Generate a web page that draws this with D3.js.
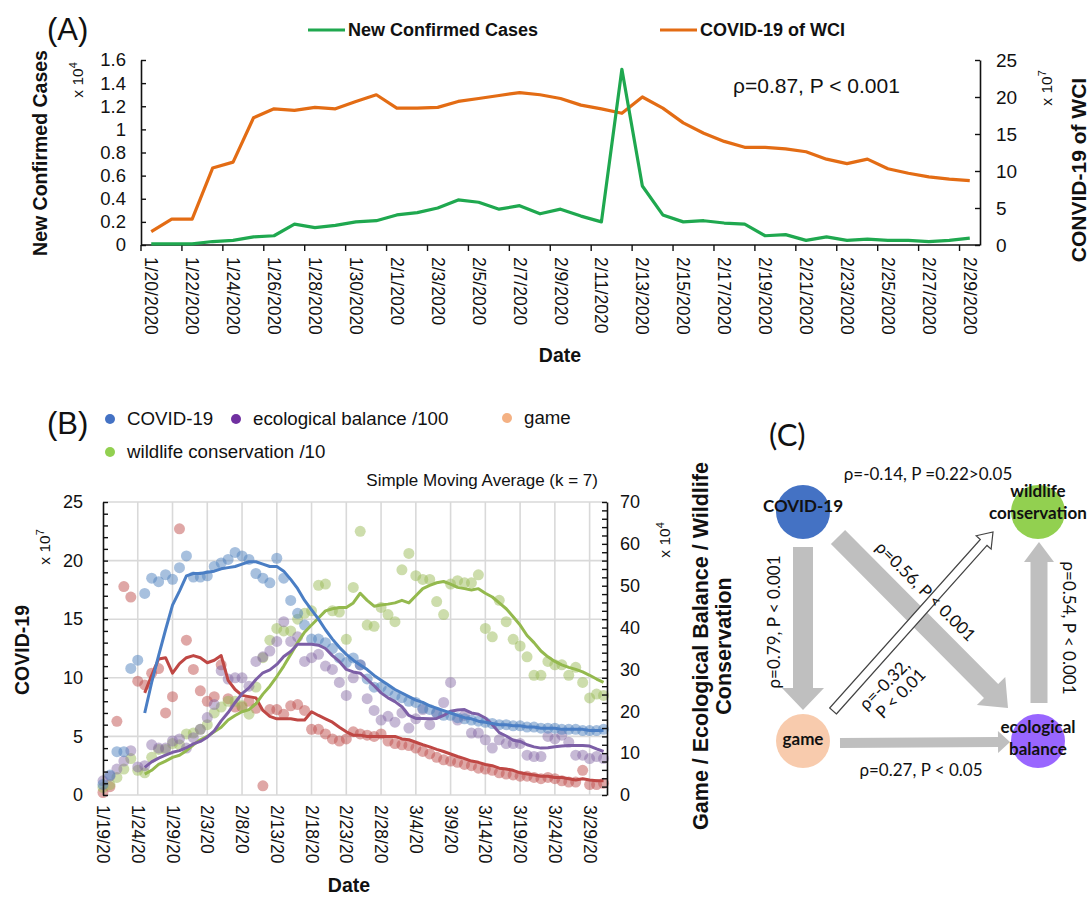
<!DOCTYPE html>
<html>
<head>
<meta charset="utf-8">
<script src="https://cdn.jsdelivr.net/npm/d3@7"></script>
<style>
    body { margin: 0; background: #fff; }
    svg text { font-family: "Liberation Sans", Arial, sans-serif; fill: #111; }
    .net text { font-family: Lato, "Open Sans", sans-serif; }
</style>
</head>
<body>
<svg id="chart" width="1089" height="903"></svg>
<script>

/* * * * * * * * * * * * * *
*        DATA (A)          *
* * * * * * * * * * * * * */

const datesA = ["1/20/2020","1/21/2020","1/22/2020","1/23/2020","1/24/2020","1/25/2020","1/26/2020","1/27/2020",
    "1/28/2020","1/29/2020","1/30/2020","1/31/2020","2/1/2020","2/2/2020","2/3/2020","2/4/2020","2/5/2020",
    "2/6/2020","2/7/2020","2/8/2020","2/9/2020","2/10/2020","2/11/2020","2/12/2020","2/13/2020","2/14/2020",
    "2/15/2020","2/16/2020","2/17/2020","2/18/2020","2/19/2020","2/20/2020","2/21/2020","2/22/2020","2/23/2020",
    "2/24/2020","2/25/2020","2/26/2020","2/27/2020","2/28/2020","2/29/2020"];

// new confirmed cases, x 10^4 (left axis)
const newCases = [0.01,0.01,0.01,0.03,0.04,0.07,0.08,0.18,0.15,0.17,0.20,0.21,0.26,0.28,0.32,0.39,0.37,
    0.31,0.34,0.27,0.31,0.25,0.20,1.52,0.51,0.26,0.20,0.21,0.19,0.18,0.08,0.09,0.04,0.07,0.04,0.05,0.04,
    0.04,0.03,0.04,0.06];

// COVID-19 of WCI, x 10^7 (right axis)
const wciCovid = [1.8,3.5,3.5,10.4,11.2,17.2,18.4,18.2,18.6,18.4,19.4,20.3,18.5,18.5,18.6,19.4,19.8,20.2,
    20.6,20.3,19.8,18.9,18.4,17.8,20.0,18.5,16.5,15.1,14.0,13.2,13.2,13.0,12.6,11.6,11.0,11.6,10.3,9.7,
    9.2,8.9,8.7];

/* * * * * * * * * * * * * *
*        DATA (B)          *
* * * * * * * * * * * * * */

const startB = new Date(2020, 0, 19);   // first daily point, 73 days to 3/31
const smaStart = 6;                     // k = 7, first average on day 7
const ticksB = ["1/19/20","1/24/20","1/29/20","2/3/20","2/8/20","2/13/20","2/18/20","2/23/20","2/28/20",
    "3/4/20","3/9/20","3/14/20","3/19/20","3/24/20","3/29/20"];

// COVID-19, x 10^7 (left axis)
const covidDots = [0.9,1.7,3.7,3.7,10.8,11.5,17.2,18.5,18.2,18.8,18.4,19.4,20.4,18.6,18.6,18.7,19.5,19.8,
    20.1,20.7,20.4,20.1,18.9,18.5,18.1,20.2,18.5,16.6,15.5,14.5,13.3,13.3,13.0,12.5,11.7,11.3,11.7,11.1,
    9.9,9.2,9.2,8.9,8.5,8.3,8.0,7.9,7.4,7.3,7.0,6.8,6.8,6.6,6.5,6.4,6.3,6.2,6.1,6.0,6.0,5.9,5.9,5.8,5.8,
    5.7,5.7,5.7,5.6,5.6,5.6,5.5,5.5,5.5,5.6];
const covidSma = [7.0,9.6,11.9,14.1,16.2,17.4,18.7,18.9,18.9,19.0,19.1,19.3,19.4,19.5,19.7,19.9,19.9,19.7,
    19.5,19.5,19.1,18.4,17.6,16.6,15.8,15.0,14.1,13.3,12.6,12.0,11.5,11.1,10.7,10.2,9.8,9.4,9.0,8.7,8.4,
    8.1,7.9,7.6,7.4,7.2,7.0,6.8,6.6,6.5,6.3,6.2,6.1,6.0,6.0,5.9,5.9,5.8,5.8,5.7,5.7,5.7,5.6,5.6,5.6,5.6,
    5.5,5.5,5.5];

// game, ecological balance /100, wildlife conservation /10 : x 10^4 (right axis)
const gameDots = [0.6,2.0,17.6,49.8,47.3,27.2,26.3,29.1,30.2,19.6,23.5,63.6,37.0,30.0,24.9,22.4,23.5,31.1,
    23.0,21.0,21.0,22.4,20.7,2.2,20.4,20.4,19.3,21.3,21.6,20.2,15.7,15.7,14.6,13.4,12.9,13.4,15.1,14.6,
    14.3,14.0,14.6,12.9,12.3,12.0,11.8,11.2,10.4,9.8,9.0,8.4,8.1,7.8,7.3,7.0,6.4,6.2,5.9,5.3,5.0,4.8,4.5,
    4.5,4.2,3.9,4.2,3.9,3.4,3.1,3.1,5.9,2.5,2.5,2.8];
const gameSma = [24.4,28.6,32.5,32.8,29.1,31.4,32.8,33.3,32.8,31.6,32.2,33.3,27.4,25.2,23.8,23.5,23.2,20.2,
    18.8,18.2,18.2,18.2,17.9,17.9,19.9,19.0,18.2,17.4,16.2,15.1,14.3,14.3,14.0,14.0,14.0,14.0,14.0,13.4,
    13.2,12.6,12.0,11.5,10.9,10.4,9.8,9.2,8.7,8.1,7.8,7.3,7.0,6.4,6.2,5.9,5.3,5.0,4.8,4.5,4.5,4.2,4.2,3.9,
    3.6,3.9,3.6,3.4,3.4];

const ecoDots = [3.4,4.5,6.2,8.1,10.6,6.7,7.0,12.0,11.2,11.2,12.9,13.4,11.2,13.7,15.7,18.5,21.6,29.7,27.7,
    28.0,28.0,26.0,31.9,33.0,34.4,36.7,41.4,36.7,37.8,31.9,32.8,33.6,30.8,30.0,26.9,23.8,28.0,31.1,23.0,
    20.2,17.9,18.8,17.4,19.6,16.0,18.2,20.4,16.8,19.6,22.1,26.9,17.9,19.0,14.8,14.8,13.2,11.2,13.2,12.3,
    12.3,12.3,9.5,9.2,9.2,14.0,13.4,14.3,12.6,9.5,9.5,8.7,9.2,8.7];
const ecoSma = [6.6,7.9,8.8,9.5,10.2,10.6,11.3,12.2,12.8,13.8,15.3,17.7,19.7,22.1,24.2,25.6,27.6,29.2,29.9,
    31.2,33.1,34.3,36.0,36.0,36.0,35.8,35.0,33.3,31.9,30.0,29.4,29.1,27.6,26.1,24.4,23.2,22.3,21.1,19.0,
    18.3,18.3,18.2,18.3,19.0,20.0,20.3,20.4,19.6,19.3,18.4,16.8,14.9,14.1,13.1,12.8,12.0,11.5,11.2,11.3,
    11.5,11.7,11.8,11.8,11.8,11.7,11.0,10.4];

const wildDots = [1.8,2.5,4.2,6.2,8.7,5.9,5.3,9.0,10.9,10.9,12.3,12.0,14.6,14.8,15.7,16.8,19.6,21.0,22.4,
    22.4,21.3,19.3,25.8,32.8,37.0,39.8,39.2,39.2,42.0,43.4,44.0,50.1,50.4,44.0,43.7,37.2,49.6,63.0,40.6,
    40.3,44.8,43.1,41.4,53.8,57.7,52.4,51.5,51.5,46.2,43.1,50.4,51.2,50.7,50.7,52.6,39.8,37.8,46.5,41.4,
    37.2,35.6,33.0,28.6,28.6,31.9,31.1,31.1,28.6,30.5,26.9,23.2,24.1,23.8];
const wildSma = [5.0,5.9,7.3,8.1,9.0,9.5,10.6,12.0,13.2,14.0,15.1,16.2,17.9,19.0,19.9,20.4,21.8,24.1,26.0,
    28.3,30.8,33.6,36.4,38.9,40.6,42.3,44.0,44.5,44.8,44.8,45.9,48.2,46.5,45.1,45.4,45.6,45.9,46.5,45.9,
    47.6,49.3,50.1,50.7,51.0,50.4,49.6,49.3,49.0,49.3,48.2,47.3,45.9,44.5,42.6,40.6,38.1,36.4,34.4,33.0,
    31.9,31.1,30.5,30.0,29.4,28.6,27.7,26.9];

/* * * * * * * * * * * * * *
*        DATA (C)          *
* * * * * * * * * * * * * */

const netNodes = [
    {id: "covid", label: ["COVID-19"], col: 0, row: 0, color: "#4472c4"},
    {id: "wild", label: ["wildlife", "conservation"], col: 1, row: 0, color: "#92d050"},
    {id: "game", label: ["game"], col: 0, row: 1, color: "#f8cbad"},
    {id: "eco", label: ["ecological", "balance"], col: 1, row: 1, color: "#9966ff"}
];
const netLinks = [
    {source: "covid", target: "game", text: ["ρ=0.79, P < 0.001"]},
    {source: "covid", target: "eco", text: ["ρ=0.56, P < 0.001"]},
    {source: "game", target: "eco", text: ["ρ=0.27, P < 0.05"]},
    {source: "eco", target: "wild", text: ["ρ=0.54, P < 0.001"]},
    {source: "game", target: "wild", text: ["ρ=-0.32,", "P < 0.01"], negative: true},
    {source: "covid", target: "wild", text: ["ρ=-0.14, P =0.22>0.05"], none: true}
];


let svg = d3.select("#chart");

function styleAxis(g, size) {
    g.attr("font-family", "Liberation Sans, Arial, sans-serif").attr("font-size", size);
    g.selectAll("path.domain").attr("stroke", "#111").attr("stroke-width", 1.6);
    g.selectAll(".tick line").attr("stroke", "#111").attr("stroke-width", 1.4);
    g.selectAll(".tick text").attr("fill", "#222");
}

function sideTitle(parent, x, y, str, size, bold) {
    return parent.append("text")
        .attr("transform", `translate(${x},${y}) rotate(-90)`)
        .attr("text-anchor", "middle")
        .attr("font-size", size)
        .attr("font-weight", bold ? "bold" : "normal")
        .text(str);
}

function powerLabel(parent, x, y, base, exp, size) {
    let t = parent.append("text")
        .attr("transform", `translate(${x},${y}) rotate(-90)`)
        .attr("text-anchor", "middle")
        .attr("font-size", size)
        .attr("fill", "#333");
    t.append("tspan").text(base);
    t.append("tspan").attr("font-size", size * 0.7).attr("dy", -size * 0.4).text(exp);
}


/* * * * * * * * * * * * * *
*        PANEL A           *
* * * * * * * * * * * * * */

function drawPanelA() {
    let A = {left: 141, right: 980, top: 60, bottom: 245};
    let g = svg.append("g").attr("class", "panelA");

    let x = d3.scaleBand().domain(datesA).range([A.left, A.right]);
    let y = d3.scaleLinear().domain([0, 1.6]).range([A.bottom, A.top]);
    let y2 = d3.scaleLinear().domain([0, 25]).range([A.bottom, A.top]);
    let bw = x.bandwidth();

    // axes
    let left = g.append("g").attr("transform", `translate(${A.left},0)`)
        .call(d3.axisLeft(y).tickValues(d3.range(0, 1.61, 0.2))
            .tickSize(-5).tickSizeOuter(0).tickPadding(15)
            .tickFormat(d => String(+d.toFixed(1))));
    styleAxis(left, 18.5);

    let right = g.append("g").attr("transform", `translate(${A.right},0)`)
        .call(d3.axisRight(y2).tickValues(d3.range(0, 26, 5))
            .tickSize(-5).tickSizeOuter(0).tickPadding(16));
    styleAxis(right, 19);

    g.append("line")
        .attr("x1", A.left).attr("x2", A.right)
        .attr("y1", A.bottom).attr("y2", A.bottom)
        .attr("stroke", "#111").attr("stroke-width", 1.6);

    let every2 = datesA.filter((d, i) => i % 2 === 0);

    g.selectAll(".tickA").data(every2).enter()
        .append("line")
        .attr("x1", d => x(d)).attr("x2", d => x(d))
        .attr("y1", A.bottom).attr("y2", A.bottom + 6)
        .attr("stroke", "#111").attr("stroke-width", 1.4);

    g.selectAll(".labA").data(every2).enter()
        .append("text")
        .attr("transform", d => `translate(${x(d) + bw / 2},${A.bottom + 12}) rotate(90)`)
        .attr("dominant-baseline", "central")
        .attr("font-size", 17.5)
        .attr("fill", "#222")
        .text(d => d);

    // lines
    let lineL = d3.line().x((d, i) => x(datesA[i]) + bw / 2).y(d => y(d));
    let lineR = d3.line().x((d, i) => x(datesA[i]) + bw / 2).y(d => y2(d));

    g.append("path").datum(wciCovid)
        .attr("d", lineR)
        .attr("fill", "none").attr("stroke", "#e36c14").attr("stroke-width", 3.2)
        .attr("stroke-linejoin", "round");

    g.append("path").datum(newCases)
        .attr("d", lineL)
        .attr("fill", "none").attr("stroke", "#1fa84f").attr("stroke-width", 3.2)
        .attr("stroke-linejoin", "round");

    // legend
    let legend = [{name: "New Confirmed Cases", color: "#1fa84f", x: 308},
        {name: "COVID-19 of WCI", color: "#e36c14", x: 660}];
    legend.forEach(l => {
        g.append("line").attr("x1", l.x).attr("x2", l.x + 37).attr("y1", 30).attr("y2", 30)
            .attr("stroke", l.color).attr("stroke-width", 3.2);
        g.append("text").attr("x", l.x + 40).attr("y", 36)
            .attr("font-size", 18).attr("font-weight", "bold").text(l.name);
    });

    // texts
    g.append("text").attr("x", 47).attr("y", 40).attr("font-size", 31).text("(A)");
    g.append("text").attr("x", 733).attr("y", 93).attr("font-size", 21).text("ρ=0.87, P < 0.001");
    g.append("text").attr("x", 560).attr("y", 362).attr("text-anchor", "middle")
        .attr("font-size", 19.5).attr("font-weight", "bold").text("Date");

    sideTitle(g, 47, 153, "New Confirmed Cases", 19.5, true);
    sideTitle(g, 1086, 170, "CONVID-19 of WCI", 21, true);
    powerLabel(g, 83, 80, "x 10", "4", 15.5);
    powerLabel(g, 1052, 88, "x 10", "7", 15.5);
}


/* * * * * * * * * * * * * *
*        PANEL B           *
* * * * * * * * * * * * * */

function drawPanelB() {
    let B = {left: 103, right: 607, top: 502, bottom: 795};
    let g = svg.append("g").attr("class", "panelB");
    let parseB = d3.timeParse("%m/%d/%y");
    let dayOf = i => d3.timeDay.offset(startB, i);

    let x = d3.scaleTime()
        .domain([startB, d3.timeHour.offset(dayOf(72), 12)])
        .range([B.left, B.right]);
    let y = d3.scaleLinear().domain([0, 25]).range([B.bottom, B.top]);
    let y2 = d3.scaleLinear().domain([0, 70]).range([B.bottom, B.top]);
    let tickDates = ticksB.map(parseB);

    // gridlines
    g.selectAll(".hgrid").data(d3.range(0, 26, 5)).enter()
        .append("line")
        .attr("x1", B.left).attr("x2", B.right)
        .attr("y1", d => y(d)).attr("y2", d => y(d))
        .attr("stroke", "#d9d9d9").attr("stroke-width", 1.6);
    g.selectAll(".vgrid").data(tickDates.slice(1)).enter()
        .append("line")
        .attr("x1", d => x(d)).attr("x2", d => x(d))
        .attr("y1", B.top).attr("y2", B.bottom)
        .attr("stroke", "#d9d9d9").attr("stroke-width", 1.6);

    // series: dots, then moving averages
    let series = [
        {dots: gameDots, sma: gameSma, scale: y2, dot: "#c0504d", line: "#bf4744", op: 0.5},
        {dots: wildDots, sma: wildSma, scale: y2, dot: "#9bbb59", line: "#94b94e", op: 0.5},
        {dots: ecoDots, sma: ecoSma, scale: y2, dot: "#8064a2", line: "#7c5ea6", op: 0.45},
        {dots: covidDots, sma: covidSma, scale: y, dot: "#4f81bd", line: "#4a7ec4", op: 0.5}
    ];

    series.forEach(s => {
        g.append("g").selectAll("circle").data(s.dots).enter()
            .append("circle")
            .attr("cx", (d, i) => x(dayOf(i)))
            .attr("cy", d => s.scale(d))
            .attr("r", 5.5)
            .attr("fill", s.dot)
            .attr("fill-opacity", s.op);
    });

    series.forEach(s => {
        let line = d3.line()
            .x((d, i) => x(dayOf(i + smaStart)))
            .y(d => s.scale(d));
        g.append("path").datum(s.sma)
            .attr("d", line)
            .attr("fill", "none")
            .attr("stroke", s.line)
            .attr("stroke-width", 3)
            .attr("stroke-linejoin", "round");
    });

    // axes
    let left = g.append("g").attr("transform", `translate(${B.left},0)`)
        .call(d3.axisLeft(y).tickValues(d3.range(0, 26, 1))
            .tickSize(-5).tickSizeOuter(0).tickPadding(20)
            .tickFormat(d => d % 5 === 0 ? d : ""));
    styleAxis(left, 18);

    let right = g.append("g").attr("transform", `translate(${B.right},0)`)
        .call(d3.axisRight(y2).tickValues(d3.range(0, 71, 2))
            .tickSize(-5).tickSizeOuter(0).tickPadding(13)
            .tickFormat(d => d % 10 === 0 ? d : ""));
    styleAxis(right, 18);

    g.selectAll(".labB").data(ticksB).enter()
        .append("text")
        .attr("transform", d => `translate(${x(parseB(d))},${B.bottom + 10}) rotate(90)`)
        .attr("dominant-baseline", "central")
        .attr("font-size", 17.5)
        .attr("fill", "#222")
        .text(d => d);

    // legend
    let legend = [
        {name: "COVID-19", color: "#4472c4", x: 110, y: 419},
        {name: "ecological balance /100", color: "#7030a0", x: 236, y: 419},
        {name: "game", color: "#f4b183", x: 507, y: 418},
        {name: "wildlife conservation /10", color: "#92d050", x: 110, y: 452}
    ];
    legend.forEach(l => {
        g.append("circle").attr("cx", l.x).attr("cy", l.y).attr("r", 5).attr("fill", l.color);
        g.append("text").attr("x", l.x + 17).attr("y", l.y + 6).attr("font-size", 18.7).text(l.name);
    });

    g.append("text").attr("x", 47).attr("y", 434).attr("font-size", 31).text("(B)");
    g.append("text").attr("x", 598).attr("y", 486).attr("text-anchor", "end")
        .attr("font-size", 17).text("Simple Moving Average (k = 7)");
    g.append("text").attr("x", 349).attr("y", 892).attr("text-anchor", "middle")
        .attr("font-size", 19.5).attr("font-weight", "bold").text("Date");

    sideTitle(g, 29, 650, "COVID-19", 19.5, true);
    sideTitle(g, 708, 646, "Game / Ecological Balance / Wildlife", 21.5, true);
    sideTitle(g, 731, 646, "Conservation", 21.5, true);
    powerLabel(g, 50, 547, "x 10", "7", 15.5);
    powerLabel(g, 670, 540, "x 10", "4", 15.5);
}


/* * * * * * * * * * * * * *
*        PANEL C           *
* * * * * * * * * * * * * */

// polygon for a block arrow from (x1,y1) to (x2,y2)
function arrowPoints(x1, y1, x2, y2, sw, hw, hl) {
    let dx = x2 - x1, dy = y2 - y1, L = Math.hypot(dx, dy);
    let ux = dx / L, uy = dy / L, px = -uy, py = ux;
    let bx = x2 - ux * hl, by = y2 - uy * hl;
    return [
        [x1 + px * sw / 2, y1 + py * sw / 2],
        [bx + px * sw / 2, by + py * sw / 2],
        [bx + px * hw / 2, by + py * hw / 2],
        [x2, y2],
        [bx - px * hw / 2, by - py * hw / 2],
        [bx - px * sw / 2, by - py * sw / 2],
        [x1 - px * sw / 2, y1 - py * sw / 2]
    ].map(p => p.join(",")).join(" ");
}

function drawPanelC() {
    let g = svg.append("g").attr("class", "net");
    let x = d3.scaleLinear().domain([0, 1]).range([803, 1038]);
    let y = d3.scaleLinear().domain([0, 1]).range([512, 741]);
    let byId = {};
    netNodes.forEach(n => { byId[n.id] = {x: x(n.col), y: y(n.row)}; });

    // arrow geometry: offsets from the node centres, shaft / head sizes, label placement
    let shape = {
        "covid-game": {s: [0, 35], t: [0, -31], sw: 20, hw: 42, hl: 22, lab: [-28, 110], rot: -90},
        "covid-eco": {s: [35, 25], t: [-30, -33], sw: 20, hw: 40, hl: 24, lab: [122, 80], rot: 45},
        "game-eco": {s: [37, 2], t: [-28, 1], sw: 10, hw: 22, hl: 12, lab: [118, 30], rot: 0},
        "eco-wild": {s: [1, -38], t: [1, 30], sw: 17, hw: 30, hl: 20, lab: [30, -113], rot: 90},
        "game-wild": {s: [30, -30], t: [-45, 20], sw: 9, hw: 20, hl: 14, lab: [82, -56], rot: -45},
        "covid-wild": {lab: [125, -37], rot: 0}
    };

    netLinks.forEach(l => {
        let a = byId[l.source], b = byId[l.target], sh = shape[l.source + "-" + l.target];
        if (l.none) return;
        g.append("polygon")
            .attr("points", arrowPoints(a.x + sh.s[0], a.y + sh.s[1], b.x + sh.t[0], b.y + sh.t[1], sh.sw, sh.hw, sh.hl))
            .attr("fill", l.negative ? "#fff" : "#bfbfbf")
            .attr("stroke", l.negative ? "#444" : "none")
            .attr("stroke-width", 1.2);
    });

    netNodes.forEach(n => {
        let c = byId[n.id];
        g.append("circle").attr("cx", c.x).attr("cy", c.y).attr("r", 27).attr("fill", n.color);
        let t = g.append("text").attr("text-anchor", "middle")
            .attr("font-size", 17).attr("font-weight", "bold").attr("fill", "#1a1a1a");
        n.label.forEach((s, i) => {
            t.append("tspan").attr("x", c.x)
                .attr("y", c.y + (n.label.length === 1 ? (n.id === "game" ? 4 : 0) : -19 + i * 22 + (n.id === "eco" ? 11 : 4)))
                .text(s);
        });
    });

    netLinks.forEach(l => {
        let a = byId[l.source], sh = shape[l.source + "-" + l.target];
        let t = g.append("text")
            .attr("transform", `translate(${a.x + sh.lab[0]},${a.y + sh.lab[1]}) rotate(${sh.rot})`)
            .attr("text-anchor", "middle")
            .attr("font-size", 17)
            .attr("fill", "#222");
        l.text.forEach((s, i) => {
            t.append("tspan").attr("x", i * 5).attr("y", i * 18 + 5).text(s);
        });
    });

    g.append("text").attr("x", 769).attr("y", 446).attr("font-size", 31)
        .attr("font-family", "Liberation Sans, Arial, sans-serif").text("(C)");
}

drawPanelA();
drawPanelB();
drawPanelC();

</script>
</body>
</html>
